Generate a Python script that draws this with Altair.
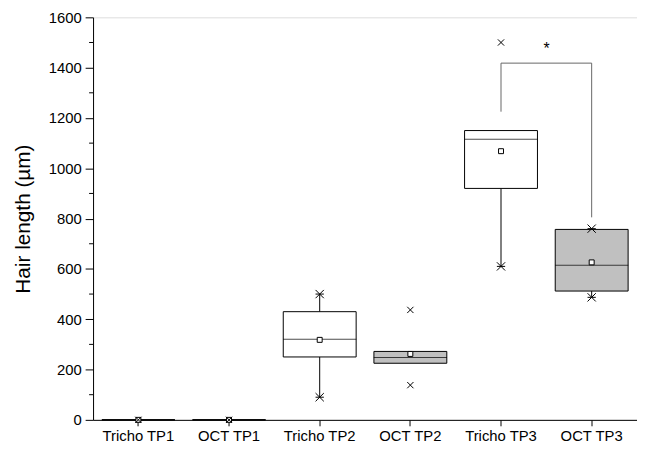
import altair as alt
import pandas as pd

# ---- data ----
groups = ["Tricho TP1", "OCT TP1", "Tricho TP2", "OCT TP2", "Tricho TP3", "OCT TP3"]
treatment = ["Tricho", "OCT", "Tricho", "OCT", "Tricho", "OCT"]
q1 = [0, 0, 250, 225, 920, 512]
q3 = [0, 0, 430, 272, 1150, 757]
medians = [0, 0, 320, 248, 1115, 615]
means = [0, 0, 318, 262, 1068, 626]
whisker_low = [0, 0, 90, 225, 610, 489]
whisker_high = [0, 0, 500, 272, 1150, 757]

marker_groups = ["Tricho TP1", "OCT TP1", "Tricho TP2", "Tricho TP2", "OCT TP2", "OCT TP2",
                 "Tricho TP3", "Tricho TP3", "OCT TP3", "OCT TP3"]
marker_values = [0, 0, 500, 90, 437, 138, 1500, 610, 760, 487]
marker_kind = ["x", "x", "asterisk", "asterisk", "x", "x", "x", "asterisk", "asterisk", "asterisk"]

bracket_groups = ["Tricho TP3", "Tricho TP3", "OCT TP3", "OCT TP3"]
bracket_values = [1225, 1418, 1418, 805]
bracket_order = [0, 1, 2, 3]

sig_label = "*"
sig_value = 1472

major_ticks = list(range(0, 1601, 200))
minor_ticks = list(range(100, 1600, 200))

FONT = "Liberation Sans"

boxes = pd.DataFrame({
    "group": groups, "treatment": treatment, "q1": q1, "q3": q3,
    "median": medians, "mean": means, "lo": whisker_low, "hi": whisker_high,
})
markers = pd.DataFrame({"group": marker_groups, "value": marker_values, "kind": marker_kind})
bracket = pd.DataFrame({"group": bracket_groups, "value": bracket_values, "order": bracket_order})
sig = pd.DataFrame({"group": ["Tricho TP3"], "value": [sig_value], "label": [sig_label]})
minor = pd.DataFrame({"value": minor_ticks})

x_enc = alt.X(
    "group:N", sort=groups,
    scale=alt.Scale(domain=groups, paddingInner=0.196, paddingOuter=0.098),
    axis=alt.Axis(
        title=None, labelAngle=0, labelFont=FONT, labelFontSize=15, labelColor="black",
        labelPadding=3, tickSize=6, tickColor="black", domainColor="black",
        domainWidth=1, tickWidth=1, grid=False,
    ),
)
y_scale = alt.Scale(domain=[0, 1600], nice=False, zero=True)
y_axis = alt.Axis(
    title="Hair length (µm)", values=major_ticks, format="d",
    tickSize=8, tickWidth=1,
    labelFont=FONT, labelFontSize=15, labelColor="black", labelPadding=4,
    titleFont=FONT, titleFontSize=21, titleFontWeight="normal", titleColor="black",
    titlePadding=15, tickColor="black", domainColor="black", grid=False,
)

base = alt.Chart(boxes)

whisk_lo = base.mark_rule(color="black", strokeWidth=1).encode(
    x=x_enc, y=alt.Y("lo:Q", scale=y_scale, axis=y_axis), y2="q1:Q")
whisk_hi = base.mark_rule(color="black", strokeWidth=1).encode(
    x=x_enc, y=alt.Y("q3:Q", scale=y_scale), y2="hi:Q")

box = base.mark_bar(stroke="black", strokeWidth=1).encode(
    x=x_enc,
    y=alt.Y("q1:Q", scale=y_scale),
    y2="q3:Q",
    fill=alt.Fill("treatment:N", scale=alt.Scale(domain=["Tricho", "OCT"], range=["white", "#c0c0c0"]), legend=None),
)
median = base.mark_tick(color="black", thickness=1, size=74).encode(
    x=x_enc, y=alt.Y("median:Q", scale=y_scale))
mean = base.mark_point(shape="square", size=25, filled=True, fill="white", stroke="black", strokeWidth=1, opacity=1).encode(
    x=x_enc, y=alt.Y("mean:Q", scale=y_scale))

asterisk_path = "M-1,-1L1,1M-1,1L1,-1M-1,0L1,0"
cross_path = "M-1,-1L1,1M-1,1L1,-1"
pts = alt.Chart(markers).mark_point(filled=False, stroke="black", strokeWidth=1, opacity=1).encode(
    x=x_enc,
    y=alt.Y("value:Q", scale=y_scale),
    shape=alt.Shape("kind:N", scale=alt.Scale(domain=["asterisk", "x"], range=[asterisk_path, cross_path]), legend=None),
    size=alt.Size("kind:N", scale=alt.Scale(domain=["asterisk", "x"], range=[70, 40]), legend=None),
)

br = alt.Chart(bracket).mark_line(color="#666666", strokeWidth=1).encode(
    x=x_enc, y=alt.Y("value:Q", scale=y_scale), order="order:Q")

star = alt.Chart(sig).mark_text(font=FONT, fontSize=16, color="black", dx=46, baseline="middle").encode(
    x=x_enc, y=alt.Y("value:Q", scale=y_scale), text="label:N")

minor_ticks_layer = alt.Chart(minor).mark_rule(color="black", strokeWidth=1).encode(
    y=alt.Y("value:Q", scale=y_scale), x=alt.value(-4), x2=alt.value(0))

chart = alt.layer(whisk_lo, whisk_hi, box, median, mean, pts, br, star, minor_ticks_layer).properties(
    width=550, height=407,
    autosize=alt.AutoSizeParams(type="none"),
    padding={"left": 86, "top": 7, "right": 0, "bottom": 25},
).configure_view(stroke=None).configure(background="white")

chart.save("out.html", embed_options={"renderer": "svg", "actions": False})
